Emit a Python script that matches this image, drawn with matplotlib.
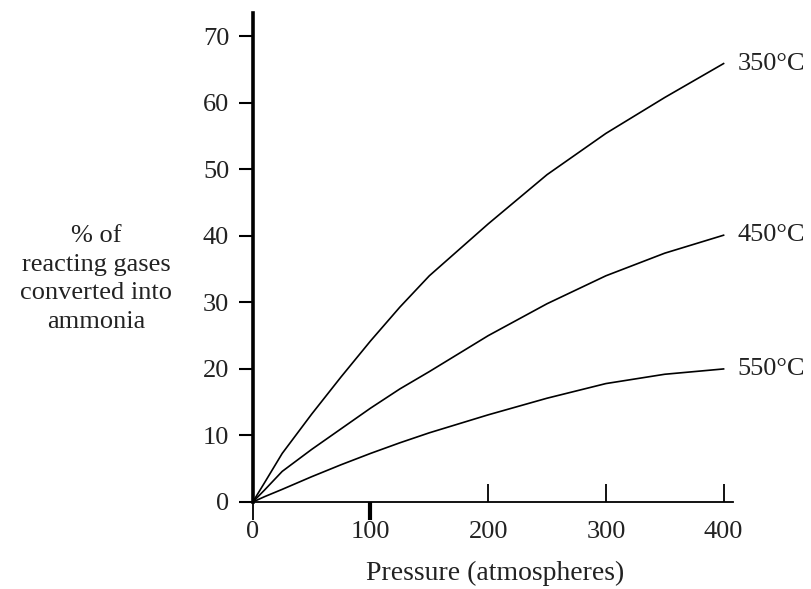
import matplotlib
matplotlib.use('Agg')
import matplotlib.pyplot as plt
import matplotlib.lines as mlines

# Pressure (atmospheres) and % ammonia
pressure = [0, 10, 25, 50, 75, 100, 125, 150, 200, 250, 300, 350, 400]
nh3_350 = [0, 2.9, 7.3, 13.2, 18.8, 24.2, 29.3, 34.0, 41.8, 49.2, 55.4, 60.8, 65.9]
nh3_450 = [0, 1.8, 4.6, 7.9, 11.0, 14.1, 17.0, 19.6, 25.0, 29.8, 34.0, 37.4, 40.1]
nh3_550 = [0, 0.8, 1.9, 3.8, 5.6, 7.3, 8.9, 10.4, 13.1, 15.6, 17.8, 19.2, 20.0]
curve_labels = ['350°C', '450°C', '550°C']

x_ticks = [0, 100, 200, 300, 400]
y_ticks = [0, 10, 20, 30, 40, 50, 60, 70]

plt.rcParams['font.family'] = ['Liberation Serif', 'DejaVu Serif']
txt = '#222222'

fig = plt.figure(figsize=(8.11, 5.89), dpi=100)
# axes box in figure fraction, taken from the reference pixels
ax = fig.add_axes([241 / 811, 87 / 589, 492 / 811, 489 / 589])

for ys in (nh3_350, nh3_450, nh3_550):
    ax.plot(pressure, ys, color='black', lw=1.2)

for ys, lab in zip((nh3_350, nh3_450, nh3_550), curve_labels):
    ax.text(412, ys[-1], lab, fontsize=19, color=txt, va='center', ha='left',
            clip_on=False)

ax.set_xlim(-10, 408)
ax.set_ylim(0, 73.5)
ax.spines['top'].set_visible(False)
ax.spines['right'].set_visible(False)
ax.spines['left'].set_position(('data', 0))
ax.spines['left'].set_linewidth(2.6)
ax.spines['bottom'].set_linewidth(1.3)

ax.set_xticks(x_ticks)
ax.set_yticks(y_ticks)
ax.tick_params(axis='y', direction='out', length=10, width=1.5, pad=7,
               labelsize=19, labelcolor=txt)
ax.tick_params(axis='x', direction='in', length=13, width=1.3, pad=14,
               labelsize=19, labelcolor=txt)
# the first two x ticks hang below the axis in the original
for tk in ax.xaxis.get_major_ticks()[:2]:
    tk.tick1line.set_marker(mlines.TICKDOWN)
ax.xaxis.get_major_ticks()[1].tick1line.set_markeredgewidth(3)

fig.text(495 / 811, 1 - 573 / 589, 'Pressure (atmospheres)', fontsize=20,
         color=txt, ha='center', va='center')
fig.text(96 / 811, 1 - 279 / 589, '% of\nreacting gases\nconverted into\nammonia',
         fontsize=19, color=txt, ha='center', va='center', linespacing=1.4)

fig.savefig('out.png', dpi=100, facecolor='white')
